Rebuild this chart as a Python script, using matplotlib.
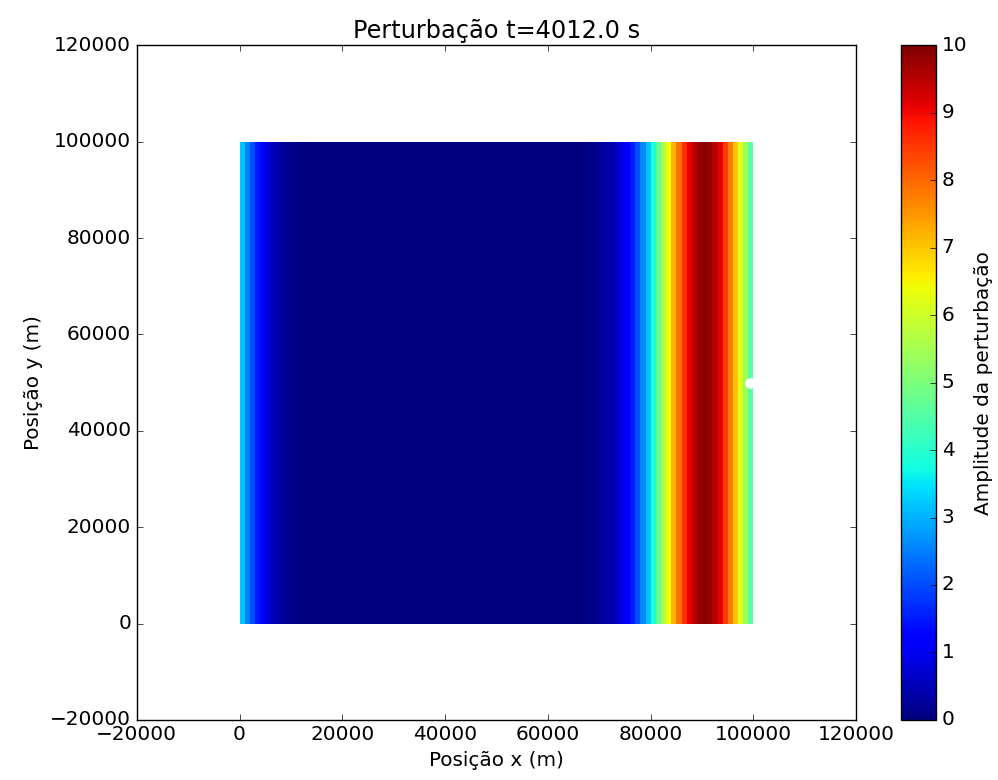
import numpy as np
import matplotlib
matplotlib.use('Agg')
import matplotlib.pyplot as plt

plt.style.use('classic')
plt.rcParams['font.size'] = 14.4

# cell edges of the grid (m)
x_edges = np.arange(0, 101000, 1000)
y_edges = np.array([0, 100000])

# perturbation amplitude in each 1 km column (uniform along y)
amp_left = [3.2, 2.5, 2.0, 1.5, 1.1, 0.8, 0.55, 0.38, 0.25, 0.15,
            0.1, 0.06, 0.04, 0.02, 0.01]
amp_middle = [0.0] * 51
amp_right = [0.03, 0.06, 0.1, 0.15,
             0.22, 0.32, 0.45, 0.65, 0.9, 1.1, 1.5, 2.0, 2.6, 3.2,
             3.9, 4.7, 5.6, 6.4, 7.2, 7.9, 8.6, 9.1, 9.5, 9.8,
             9.9, 9.8, 9.5, 9.1, 8.5, 7.8, 7.0, 6.2, 5.4, 4.6]
amplitude = np.array(amp_left + amp_middle + amp_right)

# probe point
probe_x = [99400]
probe_y = [50000]

ticks = [-20000, 0, 20000, 40000, 60000, 80000, 100000, 120000]
cbar_ticks = [0, 1, 2, 3, 4, 5, 6, 7, 8, 9, 10]

fig = plt.figure(figsize=(9.98, 7.8), dpi=100, facecolor='white')
ax = fig.add_axes([0.137, 0.077, 0.721, 0.865])
cax = fig.add_axes([0.903, 0.077, 0.035, 0.865])

Z = np.tile(amplitude, (len(y_edges) - 1, 1))
mesh = ax.pcolormesh(x_edges, y_edges, Z, cmap='jet', vmin=0, vmax=10)
ax.plot(probe_x, probe_y, 'o', color='white', markeredgecolor='white', markersize=7)

ax.set_xlim(-20000, 120000)
ax.set_ylim(-20000, 120000)
ax.set_xticks(ticks)
ax.set_yticks(ticks)
ax.tick_params(labelsize=14.4)
ax.set_xlabel('Posição x (m)', fontsize=14.4)
ax.set_ylabel('Posição y (m)', fontsize=14.4)
ax.set_title('Perturbação t=4012.0 s', fontsize=17.3)

cb = fig.colorbar(mesh, cax=cax, ticks=cbar_ticks)
cb.ax.tick_params(labelsize=14.4)
cb.set_label('Amplitude da perturbação', fontsize=14.4)

plt.savefig('out.png', dpi=100, facecolor='white')
